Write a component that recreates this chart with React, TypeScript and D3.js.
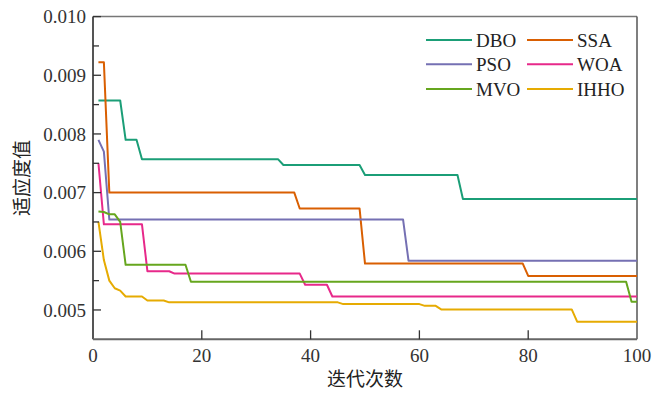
import React from "react";
import * as d3 from "d3";

// Each series: [iteration, fitness] at points where the curve changes
const dboPoints: [number, number][] = [[1,0.00857],[5,0.00857],[6,0.0079],[8,0.0079],[9,0.00757],[34,0.00757],[35,0.00747],[49,0.00747],[50,0.0073],[67,0.0073],[68,0.00689],[100,0.00689]];
const ssaPoints: [number, number][] = [[1,0.00922],[2,0.00922],[3,0.007],[37,0.007],[38,0.00673],[49,0.00673],[50,0.00579],[79,0.00579],[80,0.00558],[100,0.00558]];
const psoPoints: [number, number][] = [[1,0.0079],[2,0.0077],[3,0.00654],[57,0.00654],[58,0.00584],[100,0.00584]];
const woaPoints: [number, number][] = [[1,0.0075],[2,0.00646],[9,0.00646],[10,0.00566],[14,0.00566],[15,0.00562],[38,0.00562],[39,0.00543],[43,0.00543],[44,0.00523],[100,0.00523]];
const mvoPoints: [number, number][] = [[1,0.00668],[2,0.00667],[3,0.00663],[4,0.00663],[5,0.0065],[6,0.00577],[17,0.00577],[18,0.00548],[98,0.00548],[99,0.00514],[100,0.00514]];
const ihhoPoints: [number, number][] = [[1,0.0065],[2,0.00585],[3,0.0055],[4,0.00537],[5,0.00533],[6,0.00523],[9,0.00523],[10,0.00516],[13,0.00516],[14,0.00513],[45,0.00513],[46,0.0051],[60,0.0051],[61,0.00507],[63,0.00507],[64,0.00501],[88,0.00501],[89,0.0048],[100,0.0048]];

const seriesNames = ["DBO", "SSA", "PSO", "WOA", "MVO", "IHHO"];
const seriesData = [dboPoints, ssaPoints, psoPoints, woaPoints, mvoPoints, ihhoPoints];
const seriesColors = ["#1b9e77", "#d95f02", "#7570b3", "#e7298a", "#66a61e", "#e6ab02"];

const xTicks = [0, 20, 40, 60, 80, 100];
const yTicks = [0.005, 0.006, 0.007, 0.008, 0.009, 0.01];
const yMinorTicks = [0.0055, 0.0065, 0.0075, 0.0085, 0.0095];

const xTitle = "迭代次数";
const yTitle = "适应度值";

export default function App() {
  const W = 655, H = 394;
  const left = 93, right = 637, top = 16.6, bottom = 339.3;
  const x = d3.scaleLinear().domain([0, 100]).range([left, right]);
  const y = d3.scaleLinear().domain([0.0045, 0.01]).range([bottom, top]);
  const line = d3.line<[number, number]>().x(d => x(d[0])).y(d => y(d[1]));
  const serif = "'Liberation Serif', 'Times New Roman', serif";
  const cjk = "'Noto Sans CJK SC', sans-serif";
  const fs = 19;

  const legendCols = [426, 527];
  const legendRows = [40, 64.3, 89];

  return (
    <svg width={W} height={H} style={{ position: "absolute", left: 0, top: 0, background: "#fff" }}>
      <defs>
        <clipPath id="plot">
          <rect x={left} y={top} width={right - left} height={bottom - top} />
        </clipPath>
      </defs>
      {/* frame */}
      <line x1={left} y1={top} x2={right} y2={top} stroke="#777" strokeWidth={1.5} />
      <line x1={right} y1={top} x2={right} y2={bottom} stroke="#555" strokeWidth={1.5} />
      <g clipPath="url(#plot)">
        {seriesData.map((d, i) => (
          <path key={seriesNames[i]} d={line(d) || ""} fill="none" stroke={seriesColors[i]} strokeWidth={2} strokeLinejoin="round" />
        ))}
      </g>
      <line x1={left} y1={top} x2={left} y2={bottom} stroke="#555" strokeWidth={2} />
      <line x1={left} y1={bottom} x2={right} y2={bottom} stroke="#666" strokeWidth={2} />
      {/* y ticks */}
      {yTicks.map(t => (
        <g key={"y" + t}>
          <line x1={left} x2={left + 8} y1={y(t)} y2={y(t)} stroke="#333" strokeWidth={1.3} />
          <text x={86} y={y(t)} dy="0.35em" textAnchor="end" fontFamily={serif} fontSize={fs} fill="#333">
            {t.toFixed(3)}
          </text>
        </g>
      ))}
      {yMinorTicks.map(t => (
        <line key={"ym" + t} x1={left} x2={left + 6} y1={y(t)} y2={y(t)} stroke="#333" strokeWidth={1.3} />
      ))}
      {/* x ticks */}
      {xTicks.map(t => (
        <g key={"x" + t}>
          {t > 0 && t < 100 && (
            <line x1={x(t)} x2={x(t)} y1={bottom} y2={bottom - 9} stroke="#333" strokeWidth={1.3} />
          )}
          <text x={x(t)} y={362} textAnchor="middle" fontFamily={serif} fontSize={fs} fill="#333">
            {t}
          </text>
        </g>
      ))}
      {/* axis titles */}
      <text x={(left + right) / 2} y={386} textAnchor="middle" fontFamily={cjk} fontSize={19} fill="#222">
        {xTitle}
      </text>
      <text
        transform={`translate(29, ${(top + bottom) / 2}) rotate(-90)`}
        textAnchor="middle"
        fontFamily={cjk}
        fontSize={19}
        fill="#222"
      >
        {yTitle}
      </text>
      {/* legend */}
      {seriesNames.map((name, i) => {
        const cx = legendCols[i % 2];
        const cy = legendRows[Math.floor(i / 2)];
        return (
          <g key={"lg" + name}>
            <line x1={cx} x2={cx + 46} y1={cy} y2={cy} stroke={seriesColors[i]} strokeWidth={2} />
            <text x={cx + 50} y={cy} dy="0.35em" fontFamily={serif} fontSize={fs} fill="#222">
              {name}
            </text>
          </g>
        );
      })}
    </svg>
  );
}
